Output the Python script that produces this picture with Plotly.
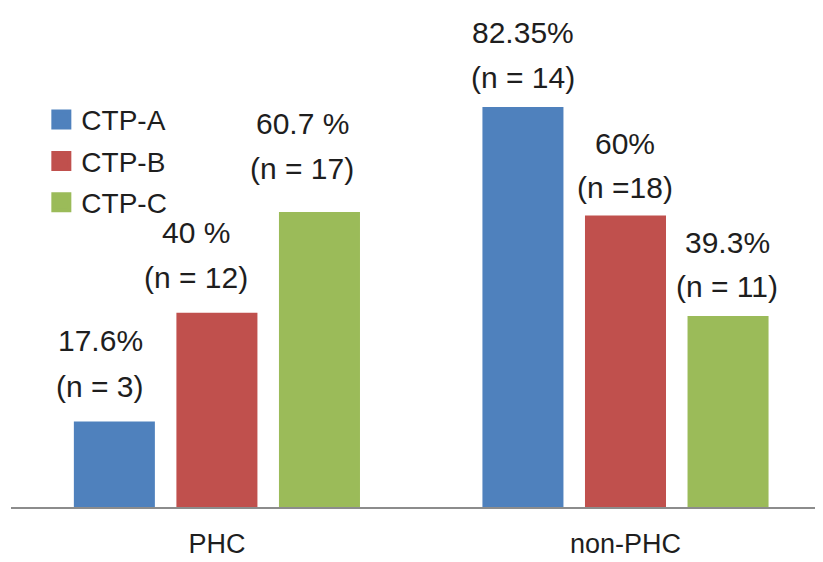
import plotly.graph_objects as go

categories = ["PHC", "non-PHC"]
series_names = ["CTP-A", "CTP-B", "CTP-C"]
ctp_a = [17.6, 82.35]
ctp_b = [40, 60]
ctp_c = [60.7, 39.3]
pct_labels_a = ["17.6%", "82.35%"]
pct_labels_b = ["40 %", "60%"]
pct_labels_c = ["60.7 %", "39.3%"]
n_labels_a = ["(n = 3)", "(n = 14)"]
n_labels_b = ["(n = 12)", "(n =18)"]
n_labels_c = ["(n = 17)", "(n = 11)"]

colors = ["#4F81BD", "#C0504D", "#9BBB59"]
FONT = "Liberation Sans, Arial, sans-serif"
TXT = "#1e1e1e"

values = [ctp_a, ctp_b, ctp_c]
pct_labels = [pct_labels_a, pct_labels_b, pct_labels_c]
n_labels = [n_labels_a, n_labels_b, n_labels_c]

# label styling offsets (pixels) per series per category
xshift_px = [[-14, 0], [-21, 0], [-17, -1]]
lift1_px = [[81, 74], [80, 72], [89, 74]]
lift2_px = [[35, 29], [35, 28], [44, 30]]

bargap = 0.247
bargroupgap = 0.21
slot = (1 - bargap) / 3

fig = go.Figure()
for i, name in enumerate(series_names):
    fig.add_trace(go.Bar(
        x=list(range(len(categories))), y=values[i], name=name,
        marker=dict(color=colors[i], line=dict(width=0)),
        showlegend=False,
    ))
# legend entries (square swatches)
for i, name in enumerate(series_names):
    fig.add_trace(go.Scatter(
        x=[None], y=[None], name=name, mode="markers",
        marker=dict(symbol="square", size=16, color=colors[i],
                    line=dict(width=4, color=colors[i])),
        legendgroup=name, hoverinfo="skip",
    ))

annotations = []
for i in range(3):
    for j in range(len(categories)):
        xc = j + (i - 1) * slot
        for txt, lift in ((pct_labels[i][j], lift1_px[i][j]), (n_labels[i][j], lift2_px[i][j])):
            annotations.append(dict(
                x=xc, y=values[i][j], xref="x", yref="y", text=txt,
                showarrow=False, yanchor="middle", xanchor="center",
                yshift=lift, xshift=xshift_px[i][j],
                font=dict(family=FONT, size=30, color=TXT),
            ))

fig.update_layout(
    width=823, height=562,
    margin=dict(l=3, r=0, t=0, b=63, pad=0, autoexpand=False),
    paper_bgcolor="white", plot_bgcolor="white",
    barmode="group", bargap=bargap, bargroupgap=bargroupgap,
    showlegend=True,
    legend=dict(x=0.037, y=0.826, xanchor="left", yanchor="top",
                font=dict(family=FONT, size=28, color=TXT),
                traceorder="grouped", tracegroupgap=2,
                bgcolor="rgba(0,0,0,0)", itemclick=False),
    annotations=annotations,
    xaxis=dict(
        tickmode="array", tickvals=list(range(len(categories))), ticktext=categories,
        range=[-0.504, 1.503], showgrid=False, zeroline=False, automargin=False,
        showline=True, linecolor="#8c8c8c", linewidth=1.5,
        ticks="outside", ticklen=12, tickcolor="rgba(0,0,0,0)",
        tickfont=dict(family=FONT, size=27, color=TXT),
    ),
    yaxis=dict(range=[0, 102.7], visible=False, automargin=False),
)

fig.write_html("out.html")
